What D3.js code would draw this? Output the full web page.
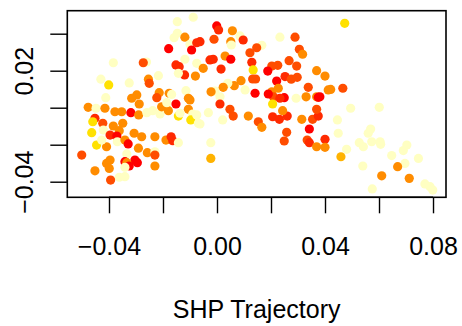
<!DOCTYPE html>
<html>
<head>
<meta charset="utf-8">
<script src="https://cdn.jsdelivr.net/npm/d3@7"></script>
<style>
  html, body { margin: 0; padding: 0; background: #ffffff; }
  svg { display: block; }
  text { font-family: "Liberation Sans", Arial, Helvetica, sans-serif; fill: #000; }
</style>
</head>
<body>
<svg id="chart" width="462" height="326"></svg>
<script>
// SHP trajectory (x) against the second score (y), one colour level per point
const shpTrajectory = [
  -0.0147,-0.0088,-0.0147,-0.0159,-0.0119,-0.0100,-0.0075,-0.0094,-0.0179,-0.0119,
  -0.0075,-0.0152,-0.0140,-0.0120,-0.0080,-0.0143,-0.0384,-0.0261,-0.0273,-0.0430,
  -0.0401,-0.0325,-0.0217,-0.0254,-0.0251,-0.0115,-0.0214,-0.0177,-0.0168,-0.0297,
  -0.0316,-0.0412,-0.0223,-0.0106,-0.0001,0.0006,0.0057,0.0085,-0.0011,0.0051,
  0.0053,0.0097,-0.0063,0.0166,0.0147,0.0122,0.0030,0.0051,-0.0026,-0.0014,
  -0.0051,0.0015,0.0129,0.0134,0.0203,0.0225,0.0188,0.0233,0.0289,0.0305,
  0.0317,0.0267,0.0295,0.0369,0.0400,0.0132,0.0143,0.0221,0.0252,0.0275,
  0.0297,0.0089,0.0064,0.0040,-0.0007,0.0023,0.0141,0.0104,0.0203,0.0227,
  0.0338,-0.0022,0.0412,0.0209,0.0249,0.0293,0.0330,0.0369,0.0011,0.0473,
  0.0421,0.0466,0.0381,-0.0100,-0.0477,-0.0448,-0.0415,-0.0378,-0.0353,-0.0319,
  -0.0288,-0.0290,-0.0260,-0.0238,-0.0211,-0.0205,-0.0180,-0.0186,-0.0152,-0.0143,
  -0.0106,-0.0137,-0.0090,-0.0097,-0.0069,-0.0452,-0.0460,-0.0423,-0.0421,-0.0464,
  -0.0384,-0.0362,-0.0349,-0.0307,-0.0279,-0.0230,-0.0396,-0.0371,-0.0369,-0.0341,
  -0.0329,-0.0291,-0.0258,-0.0189,-0.0170,-0.0164,-0.0143,-0.0446,-0.0409,-0.0427,
  -0.0501,-0.0334,-0.0230,-0.0230,-0.0396,-0.0409,-0.0399,-0.0341,-0.0304,-0.0295,
  -0.0334,-0.0325,-0.0341,-0.0230,-0.0452,-0.0362,-0.0341,-0.0394,0.0190,0.0233,
  0.0375,0.0011,0.0206,0.0048,0.0060,-0.0075,-0.0063,-0.0032,0.0021,0.0116,
  0.0153,0.0166,0.0206,0.0231,0.0260,0.0243,0.0314,0.0354,0.0375,0.0369,
  0.0342,0.0258,0.0249,0.0334,0.0342,0.0369,0.0400,0.0400,-0.0023,-0.0023,
  0.0495,0.0601,0.0446,0.0449,0.0459,0.0480,0.0569,0.0560,0.0573,0.0527,
  0.0542,0.0604,0.0606,0.0703,0.0690,0.0647,0.0696,0.0746,0.0669,0.0540,
  0.0610,0.0712,0.0575,0.0770,0.0789,0.0799
];
const secondScore = [
  0.0465,0.0489,0.0402,0.0378,0.0381,0.0343,0.0351,0.0312,0.0319,0.0262,
  0.0240,0.0231,0.0222,0.0177,0.0171,0.0186,0.0243,0.0247,0.0243,0.0154,
  0.0123,0.0134,0.0173,0.0154,0.0132,0.0092,0.0081,0.0078,0.0072,0.0069,
  0.0051,0.0054,0.0054,0.0051,0.0442,0.0420,0.0416,0.0388,0.0370,0.0357,
  0.0339,0.0366,0.0357,0.0337,0.0324,0.0297,0.0279,0.0262,0.0258,0.0262,
  0.0213,0.0209,0.0245,0.0204,0.0225,0.0229,0.0198,0.0381,0.0381,0.0316,
  0.0289,0.0254,0.0225,0.0200,0.0171,0.0155,0.0155,0.0144,0.0168,0.0154,
  0.0164,0.0146,0.0119,0.0132,0.0090,0.0110,0.0078,0.0096,0.0086,0.0105,
  0.0110,0.0086,0.0096,0.0059,0.0054,0.0051,0.0059,0.0059,0.0059,0.0456,
  0.0099,0.0105,0.0059,0.0042,0.0002,-0.0003,-0.0003,-0.0022,-0.0022,-0.0027,
  0.0020,-0.0039,-0.0027,-0.0016,-0.0034,0.0005,-0.0016,0.0027,0.0020,-0.0045,
  -0.0009,-0.0030,-0.0034,-0.0066,-0.0084,-0.0057,-0.0076,-0.0084,-0.0121,-0.0135,
  -0.0099,-0.0124,-0.0084,-0.0138,-0.0157,-0.0157,-0.0148,-0.0153,-0.0184,-0.0175,
  -0.0196,-0.0219,-0.0243,-0.0175,-0.0157,-0.0178,-0.0189,-0.0202,-0.0211,-0.0175,
  -0.0256,-0.0250,-0.0238,-0.0256,-0.0283,-0.0301,-0.0328,-0.0292,-0.0283,-0.0297,
  -0.0297,-0.0315,-0.0322,-0.0315,-0.0341,-0.0376,-0.0373,-0.0391,0.0074,0.0051,
  0.0056,0.0020,0.0020,-0.0009,-0.0045,-0.0039,-0.0088,-0.0027,-0.0066,-0.0045,
  -0.0076,-0.0106,-0.0049,-0.0063,-0.0045,-0.0016,-0.0063,-0.0063,-0.0045,-0.0009,
  -0.0115,-0.0133,-0.0180,-0.0175,-0.0189,-0.0211,-0.0171,-0.0214,-0.0189,-0.0274,
  -0.0003,0.0002,-0.0066,-0.0138,-0.0265,-0.0225,-0.0115,-0.0138,-0.0184,-0.0189,
  -0.0211,-0.0184,-0.0198,-0.0202,-0.0232,-0.0259,-0.0301,-0.0274,-0.0319,-0.0315,
  -0.0368,-0.0382,-0.0439,-0.0412,-0.0427,-0.0445
];
// colour level of each point: 0 = red ... 6 = pale yellow
const level = [
  6,6,6,6,3,6,1,0,0,6,
  6,1,1,1,3,6,6,6,2,6,
  5,6,6,3,2,6,3,3,6,3,
  3,6,2,3,0,1,3,6,2,3,
  6,1,1,6,2,2,3,0,1,1,
  3,1,1,5,2,2,0,6,2,2,
  3,2,2,3,3,2,2,0,1,2,
  2,3,3,6,6,3,0,6,3,3,
  2,3,3,2,0,6,3,3,6,5,
  3,2,0,3,3,6,3,3,3,0,
  3,3,6,6,6,3,3,6,0,5,
  3,6,6,5,6,1,5,2,6,5,
  3,3,3,3,3,3,1,0,6,3,
  0,3,3,3,1,1,6,5,3,6,
  2,6,6,2,3,3,3,0,0,0,
  3,0,6,3,3,6,6,2,0,1,
  0,1,5,2,2,6,6,6,6,3,
  2,3,1,1,1,3,3,2,1,2,
  0,2,2,2,1,3,1,3,6,4,
  6,6,6,6,4,6,6,6,6,6,
  6,6,6,6,6,6,6,6,3,6,
  3,3,6,6,6,6
];
const palette = ["#FF0000", "#FF2A00", "#FF4D00", "#FF8C00", "#FFB300", "#FFE100", "#FFFFC2"];

const xDomain = [-0.05544, 0.08481];
const yDomain = [-0.04843, 0.05243];
const xTicks = [-0.04, -0.02, 0.00, 0.02, 0.04, 0.06, 0.08];
const xTickLabels = ["\u22120.04", "", "0.00", "", "0.04", "", "0.08"];
const yTicks = [-0.04, -0.02, 0.00, 0.02, 0.04];
const yTickLabels = ["\u22120.04", "", "", "0.02", ""];
const xTitle = "SHP Trajectory";

const svg = d3.select("#chart");
const box = { left: 67.3, right: 446, top: 10.7, bottom: 197.3 };

const x = d3.scaleLinear().domain(xDomain).range([box.left, box.right]);
const y = d3.scaleLinear().domain(yDomain).range([box.bottom, box.top]);

// points
svg.append("g")
  .selectAll("circle")
  .data(shpTrajectory.map((v, i) => ({ x: v, y: secondScore[i], c: level[i] })))
  .join("circle")
  .attr("cx", d => x(d.x))
  .attr("cy", d => y(d.y))
  .attr("r", 4.6)
  .attr("fill", d => palette[d.c]);

// axes
const fontSize = 25;
const xAxis = svg.append("g")
  .attr("transform", `translate(0,${box.bottom})`)
  .call(d3.axisBottom(x).tickValues(xTicks).tickSize(16).tickSizeOuter(0)
    .tickFormat((d, i) => xTickLabels[i]));
xAxis.select(".domain").attr("d", `M${x(xTicks[0])},0H${x(xTicks[xTicks.length - 1])}`);
xAxis.selectAll("text")
  .attr("y", 58).attr("dy", 0)
  .style("font-size", fontSize + "px")
  .style("font-family", "'Liberation Sans', Arial, sans-serif");

const yAxis = svg.append("g")
  .attr("transform", `translate(${box.left},0)`)
  .call(d3.axisLeft(y).tickValues(yTicks).tickSize(17).tickSizeOuter(0)
    .tickFormat((d, i) => yTickLabels[i]));
yAxis.select(".domain").attr("d", `M0,${y(yTicks[0])}V${y(yTicks[yTicks.length - 1])}`);
yAxis.selectAll("text")
  .attr("x", 0).attr("dy", 0)
  .attr("text-anchor", "middle")
  .attr("transform", "translate(-34,0) rotate(-90)")
  .style("font-size", fontSize + "px")
  .style("font-family", "'Liberation Sans', Arial, sans-serif");

svg.selectAll(".tick line, .domain").attr("stroke", "#000").attr("stroke-width", 1.4);

// frame
svg.append("rect")
  .attr("x", box.left).attr("y", box.top)
  .attr("width", box.right - box.left).attr("height", box.bottom - box.top)
  .attr("fill", "none").attr("stroke", "#000").attr("stroke-width", 1.6);

// axis title
svg.append("text")
  .attr("x", (box.left + box.right) / 2)
  .attr("y", 318)
  .attr("text-anchor", "middle")
  .style("font-size", fontSize + "px")
  .text(xTitle);
</script>
</body>
</html>
